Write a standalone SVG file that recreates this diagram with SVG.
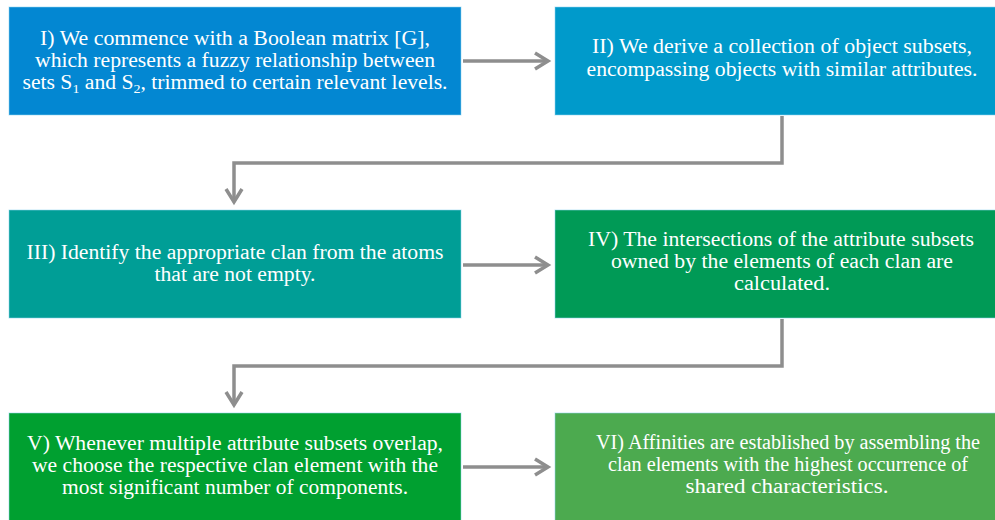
<svg xmlns="http://www.w3.org/2000/svg" width="995" height="520" viewBox="0 0 995 520">
  <defs>
    <style>
      .box { stroke: #8fd3ef; stroke-opacity: 0.55; stroke-width: 1; }
      .lbl { font-family: 'Liberation Serif', 'Times New Roman', 'DejaVu Serif', serif; font-size: 20px; fill: #ffffff; text-anchor: middle; }
      .sub { font-size: 13px; }
      .conn { fill: none; stroke: #8e8e8e; stroke-width: 3.5; stroke-linejoin: miter; }
      .head { fill: none; stroke: #8e8e8e; stroke-width: 3.5; stroke-linecap: butt; stroke-linejoin: miter; }
    </style>
  </defs>
  <rect width="995" height="520" fill="#ffffff"/>

  <!-- Step I -->
  <g id="step1">
    <rect class="box" x="9" y="7" width="452" height="108" fill="#0387d2"/>
    <text class="lbl" x="235" y="45" textLength="390" lengthAdjust="spacingAndGlyphs">I) We commence with a Boolean matrix [G],</text>
    <text class="lbl" x="235" y="67" textLength="400" lengthAdjust="spacingAndGlyphs">which represents a fuzzy relationship between</text>
    <text class="lbl" x="235" y="89" textLength="425" lengthAdjust="spacingAndGlyphs">sets S<tspan class="sub" dy="4">1</tspan><tspan dy="-4"> and S</tspan><tspan class="sub" dy="4">2</tspan><tspan dy="-4">, trimmed to certain relevant levels.</tspan></text>
  </g>

  <!-- Step II -->
  <g id="step2">
    <rect class="box" x="555" y="7" width="452" height="108" fill="#009acb"/>
    <text class="lbl" x="782" y="53" textLength="380" lengthAdjust="spacingAndGlyphs">II) We derive a collection of object subsets,</text>
    <text class="lbl" x="782" y="76" textLength="391" lengthAdjust="spacingAndGlyphs">encompassing objects with similar attributes.</text>
  </g>

  <!-- Step III -->
  <g id="step3">
    <rect class="box" x="9" y="210" width="452" height="108" fill="#009e96"/>
    <text class="lbl" x="235" y="259" textLength="417" lengthAdjust="spacingAndGlyphs">III) Identify the appropriate clan from the atoms</text>
    <text class="lbl" x="235" y="281" textLength="161" lengthAdjust="spacingAndGlyphs">that are not empty.</text>
  </g>

  <!-- Step IV -->
  <g id="step4">
    <rect class="box" x="555" y="210" width="452" height="108" fill="#009a56"/>
    <text class="lbl" x="781" y="246" textLength="386" lengthAdjust="spacingAndGlyphs">IV) The intersections of the attribute subsets</text>
    <text class="lbl" x="782" y="268" textLength="342" lengthAdjust="spacingAndGlyphs">owned by the elements of each clan are</text>
    <text class="lbl" x="782" y="290" textLength="96" lengthAdjust="spacingAndGlyphs">calculated.</text>
  </g>

  <!-- Step V -->
  <g id="step5">
    <rect class="box" x="9" y="413" width="452" height="110" fill="#00a030"/>
    <text class="lbl" x="235" y="450" textLength="416" lengthAdjust="spacingAndGlyphs">V) Whenever multiple attribute subsets overlap,</text>
    <text class="lbl" x="235" y="472" textLength="406" lengthAdjust="spacingAndGlyphs">we choose the respective clan element with the</text>
    <text class="lbl" x="235" y="494" textLength="346" lengthAdjust="spacingAndGlyphs">most significant number of components.</text>
  </g>

  <!-- Step VI -->
  <g id="step6">
    <rect class="box" x="555" y="413" width="460" height="110" fill="#4caa4f"/>
    <text class="lbl" x="788" y="449" textLength="384" lengthAdjust="spacingAndGlyphs">VI) Affinities are established by assembling the</text>
    <text class="lbl" x="788" y="471" textLength="360" lengthAdjust="spacingAndGlyphs">clan elements with the highest occurrence of</text>
    <text class="lbl" x="787" y="493" textLength="203" lengthAdjust="spacingAndGlyphs">shared characteristics.</text>
  </g>

  <!-- Connectors -->
  <g id="connectors">
    <!-- I to II -->
    <line class="conn" x1="463" y1="61" x2="548" y2="61"/>
    <polyline class="head" points="535,53 548,61 535,69"/>
    <!-- II to III -->
    <polyline class="conn" points="782,116 782,163 234,163 234,201"/>
    <polyline class="head" points="226,189 234,202 242,189"/>
    <!-- III to IV -->
    <line class="conn" x1="463" y1="265" x2="548" y2="265"/>
    <polyline class="head" points="535,257 548,265 535,273"/>
    <!-- IV to V -->
    <polyline class="conn" points="782,319 782,366 234,366 234,404"/>
    <polyline class="head" points="226,392 234,405 242,392"/>
    <!-- V to VI -->
    <line class="conn" x1="463" y1="467" x2="548" y2="467"/>
    <polyline class="head" points="535,459 548,467 535,475"/>
  </g>
</svg>
